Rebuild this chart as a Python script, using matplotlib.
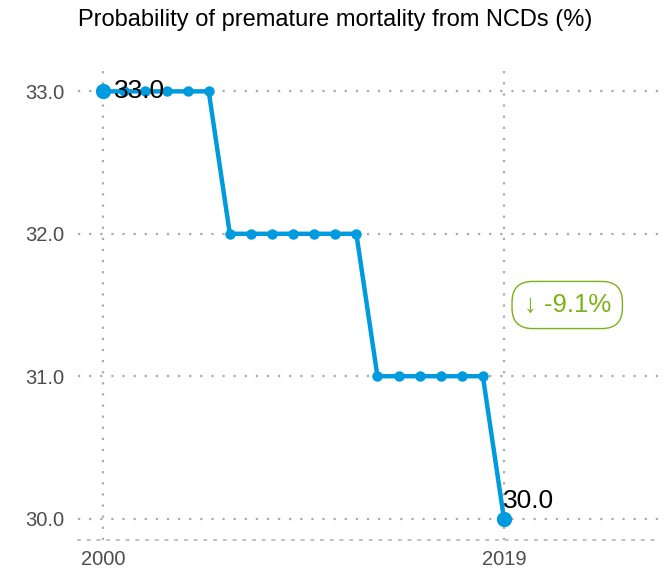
import matplotlib
matplotlib.use("Agg")
import matplotlib.pyplot as plt

years = list(range(2000, 2020))
values = [33.0, 33.0, 33.0, 33.0, 33.0, 33.0,
          32.0, 32.0, 32.0, 32.0, 32.0, 32.0, 32.0,
          31.0, 31.0, 31.0, 31.0, 31.0, 31.0,
          30.0]
yticks = [30.0, 31.0, 32.0, 33.0]
xticks = [2000, 2019]
title = "Probability of premature mortality from NCDs (%)"
change_label = "↓ -9.1%"

plt.rcParams['font.family'] = ['Liberation Sans', 'DejaVu Sans']

fig = plt.figure(figsize=(6.64, 5.73), dpi=100)
ax = fig.add_axes([78/664, 1 - 540/573, (660-78)/664, (540-70)/573])

blue = "#009ADE"
grid_c = "#aaaaaa"

for y in yticks:
    ax.axhline(y, color=grid_c, lw=1.6, ls=(0, (1, 4)), zorder=0)
for x in xticks:
    ax.axvline(x, color=grid_c, lw=1.6, ls=(0, (1, 4)), zorder=0)

ax.plot(years, values, color=blue, lw=3.2, marker='o', ms=6.5, zorder=3)
ax.plot([years[0], years[-1]], [values[0], values[-1]], ls='none',
        marker='o', ms=10, color=blue, zorder=4)

ax.annotate(f"{values[0]:.1f}", (years[0], values[0]), xytext=(8, 0),
            textcoords='offset points', ha='left', va='center',
            fontsize=19, color='black', zorder=5)
ax.annotate(f"{values[-1]:.1f}", (years[-1], values[-1]), xytext=(-1, 4),
            textcoords='offset points', ha='left', va='bottom',
            fontsize=19, color='black', zorder=5)

ax.text(2022.0, 31.5, change_label, ha='center', va='center', fontsize=18.5,
        color='#7AB317',
        bbox=dict(boxstyle='round,pad=0.45,rounding_size=0.8', fc='white',
                  ec='#7AB317', lw=1.0))

ax.set_xlim(1998.8, 2026.4)
ax.set_ylim(29.85, 33.15)
ax.set_xticks(xticks)
ax.set_xticklabels([str(x) for x in xticks])
ax.set_yticks(yticks)
ax.set_yticklabels([f"{y:.1f}" for y in yticks])
ax.tick_params(axis='both', length=0, labelsize=14.5, labelcolor='#4d4d4d')
ax.tick_params(axis='x', pad=7)
ax.tick_params(axis='y', pad=10)
for s in ['top', 'right', 'left']:
    ax.spines[s].set_visible(False)
ax.spines['bottom'].set_color('#c0c0c0')
ax.spines['bottom'].set_linewidth(1.4)
ax.spines['bottom'].set_linestyle((0, (1, 4)))

fig.text(335/664, 1 - 20/573, title, ha='center', va='center', fontsize=17,
         color='black')

fig.savefig("out.png", dpi=100, facecolor='white')
